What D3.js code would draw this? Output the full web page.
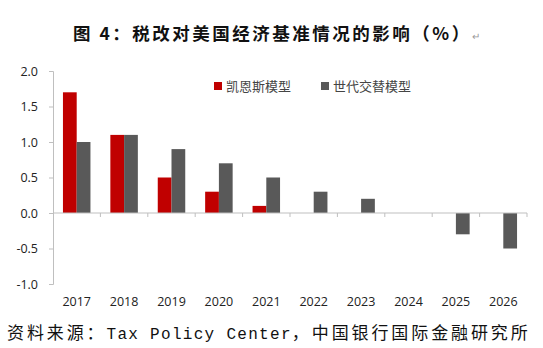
<!DOCTYPE html>
<html>
<head>
<meta charset="utf-8">
<script src="https://cdn.jsdelivr.net/npm/d3@7.9.0/dist/d3.min.js"></script>
<style>
  body { margin: 0; background: #fff; }
  svg { display: block; }
</style>
</head>
<body>
<svg width="543" height="348"></svg>
<script>
// data
const years = ['2017', '2018', '2019', '2020', '2021', '2022', '2023', '2024', '2025', '2026'];
const keynes = [1.7, 1.1, 0.5, 0.3, 0.1, 0, 0, 0, 0, 0];
const olg = [1.0, 1.1, 0.9, 0.7, 0.5, 0.3, 0.2, 0, -0.3, -0.5];
const seriesNames = ['凯恩斯模型', '世代交替模型'];
const yTicks = [-1.0, -0.5, 0.0, 0.5, 1.0, 1.5, 2.0];

const colors = ['#c00000', '#595959'];
const svg = d3.select('svg');

// title
const title = svg.append('text')
  .attr('x', 73).attr('y', 40)
  .attr('font-family', '"Noto Sans CJK SC"')
  .attr('font-weight', 'bold')
  .attr('font-size', 17.5)
  .attr('letter-spacing', 2.5)
  .attr('fill', '#111');
title.append('tspan').text('图 4：税改对美国经济基准情况的影响（%）');
title.append('tspan').attr('font-size', 10).attr('font-weight', 'normal').attr('fill', '#999').text('↵');

// scales
const x = d3.scaleBand().domain(years).range([53, 527]).paddingInner(0.42).paddingOuter(0.21);
const sub = d3.scaleBand().domain([0, 1]).range([0, x.bandwidth()]);
const y = d3.scaleLinear().domain([-1, 2]).range([284, 71]);

// bars
const rows = years.map((yr, i) => ({ yr, vals: [keynes[i], olg[i]] }));
const g = svg.append('g');
rows.forEach(r => {
  r.vals.forEach((v, j) => {
    if (v === 0) return;
    g.append('rect')
      .attr('x', x(r.yr) + sub(j))
      .attr('width', sub.bandwidth())
      .attr('y', y(Math.max(0, v)))
      .attr('height', Math.abs(y(v) - y(0)))
      .attr('fill', colors[j]);
  });
});

// y axis
const yAxis = svg.append('g')
  .attr('transform', 'translate(53,0)')
  .call(d3.axisLeft(y).tickValues(yTicks).tickFormat(d3.format('.1f')).tickSize(4).tickPadding(11));
yAxis.selectAll('line, path').attr('stroke', '#bfbfbf');
yAxis.selectAll('text')
  .attr('font-family', '"Open Sans", sans-serif')
  .attr('font-size', 12.5)
  .attr('fill', '#222')
  .text(d => d3.format('.1f')(d).replace('−', '-'));

// zero line with category boundary ticks
const zero = svg.append('g').attr('stroke', '#bfbfbf');
zero.append('line').attr('x1', 53).attr('x2', 527).attr('y1', y(0)).attr('y2', y(0));
years.forEach((yr, i) => {
  const bx = x(yr) - x.step() * x.paddingInner() / 2 + x.step();
  zero.append('line').attr('x1', bx).attr('x2', bx).attr('y1', y(0)).attr('y2', y(0) + 4);
});

// category labels
svg.append('g').selectAll('text').data(years).join('text')
  .attr('x', d => x(d) + x.bandwidth() / 2)
  .attr('y', 306)
  .attr('text-anchor', 'middle')
  .attr('font-family', '"Open Sans", sans-serif')
  .attr('font-size', 12.5)
  .attr('fill', '#222')
  .text(d => d);

// legend
const legendX = [214, 321];
seriesNames.forEach((name, j) => {
  svg.append('rect').attr('x', legendX[j]).attr('y', 82).attr('width', 8).attr('height', 8).attr('fill', colors[j]);
  svg.append('text')
    .attr('x', legendX[j] + 12).attr('y', 91)
    .attr('font-family', '"Noto Sans CJK SC"')
    .attr('font-size', 13)
    .attr('fill', '#444')
    .text(name);
});

// source note
const src = svg.append('text')
  .attr('x', 7).attr('y', 339)
  .attr('font-family', '"Noto Sans CJK SC"')
  .attr('font-size', 17)
  .attr('letter-spacing', 2.9)
  .attr('fill', '#111');
src.append('tspan').text('资料来源：');
src.append('tspan').attr('font-family', '"Liberation Mono"').attr('font-size', 16).attr('letter-spacing', 1.3).text('Tax Policy Center');
src.append('tspan').text('，中国银行国际金融研究所');
</script>
</body>
</html>
